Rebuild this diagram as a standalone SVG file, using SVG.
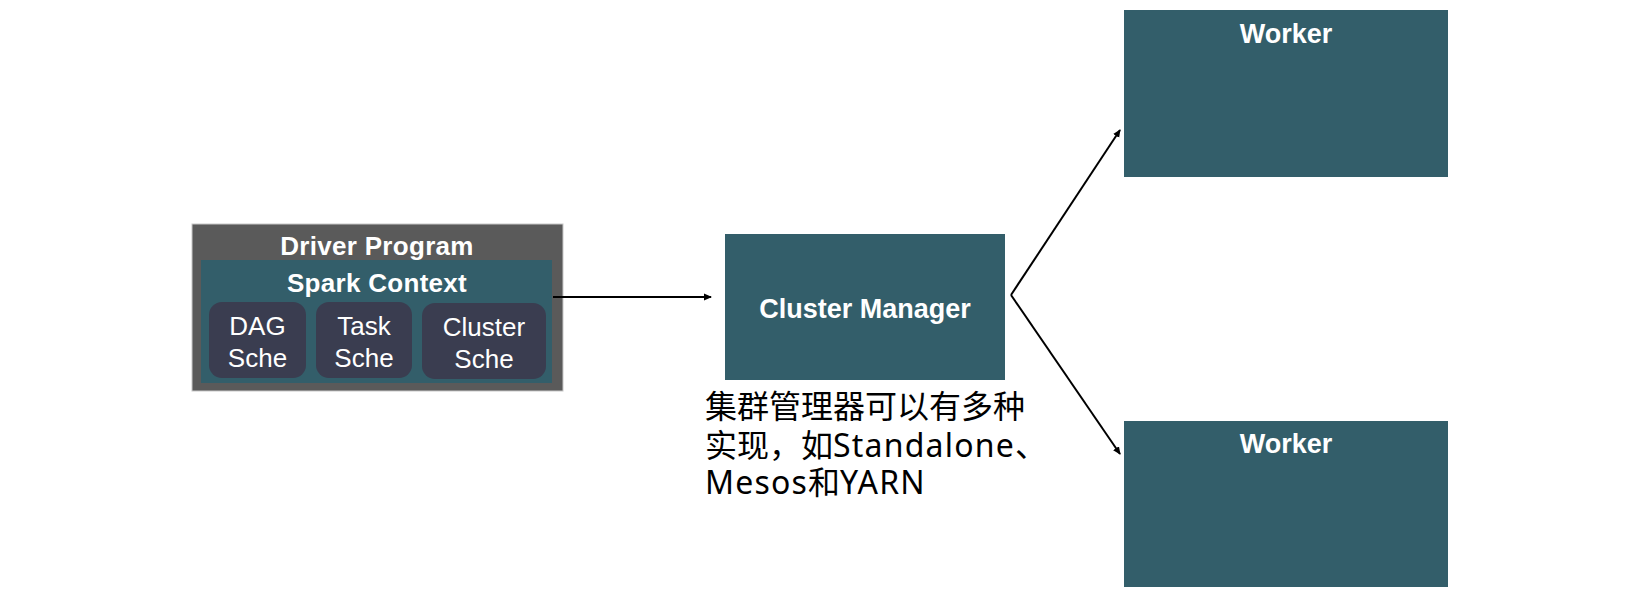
<svg xmlns="http://www.w3.org/2000/svg" width="1632" height="595" viewBox="0 0 1632 595">
<style>
.bg{fill:#ffffff}
.teal{fill:#335e6a}
.gray{fill:#5a5a5a;stroke:#c8c8c8;stroke-width:1}
.sub{fill:#3a3d50}
.bold{font-family:"Liberation Sans",Arial,sans-serif;font-weight:bold;fill:#ffffff;text-anchor:middle}
.reg{font-family:"Liberation Sans",Arial,sans-serif;fill:#ffffff;text-anchor:middle;font-size:26px}
.note{font-family:"Noto Sans","Noto Sans CJK SC",sans-serif;fill:#000000;font-size:32px}
.lat{letter-spacing:1.2px}
.conn{stroke:#000;stroke-width:2;fill:none}
</style>
<defs>
<marker id="ah" markerWidth="8" markerHeight="8" refX="7" refY="4" orient="auto" markerUnits="userSpaceOnUse">
<path d="M0,0.5 L8,4 L0,7.5 Z" fill="#000"/>
</marker>
</defs>
<rect class="bg" x="0" y="0" width="1632" height="595"/>
<g id="driver">
<rect class="gray" x="192" y="224" width="371" height="167"/>
<text class="bold" x="377" y="255" font-size="26" letter-spacing="0.3">Driver Program</text>
<g id="sparkcontext">
<rect class="teal" x="201" y="260" width="351" height="123"/>
<text class="bold" x="377" y="292" font-size="26" letter-spacing="0.3">Spark Context</text>
</g>
<g id="dag">
<rect class="sub" x="209" y="302" width="97" height="76" rx="13"/>
<text class="reg" x="257.5" y="335">DAG</text>
<text class="reg" x="257.5" y="367">Sche</text>
</g>
<g id="task">
<rect class="sub" x="316" y="302" width="96" height="76" rx="13"/>
<text class="reg" x="364" y="335">Task</text>
<text class="reg" x="364" y="367">Sche</text>
</g>
<g id="clustersche">
<rect class="sub" x="422" y="303" width="124" height="76" rx="13"/>
<text class="reg" x="484" y="336">Cluster</text>
<text class="reg" x="484" y="368">Sche</text>
</g>
</g>
<g id="clustermanager">
<rect class="teal" x="725" y="234" width="280" height="146"/>
<text class="bold" x="865" y="318" font-size="27">Cluster Manager</text>
</g>
<g id="note">
<text class="note" x="705" y="418">集群管理器可以有多种</text>
<text class="note" x="705" y="457">实现，如<tspan class="lat">Standalone</tspan>、</text>
<text class="note" x="705" y="494"><tspan class="lat">Mesos</tspan>和<tspan class="lat">YARN</tspan></text>
</g>
<g id="worker1">
<rect class="teal" x="1124" y="10" width="324" height="167"/>
<text class="bold" x="1286" y="43" font-size="27">Worker</text>
</g>
<g id="worker2">
<rect class="teal" x="1124" y="421" width="324" height="166"/>
<text class="bold" x="1286" y="453" font-size="27">Worker</text>
</g>
<g id="connectors">
<line class="conn" x1="553" y1="297" x2="711" y2="297" marker-end="url(#ah)"/>
<path class="conn" d="M1011,295 L1120,130" marker-end="url(#ah)"/>
<path class="conn" d="M1011,295 L1120,454" marker-end="url(#ah)"/>
</g>
</svg>
